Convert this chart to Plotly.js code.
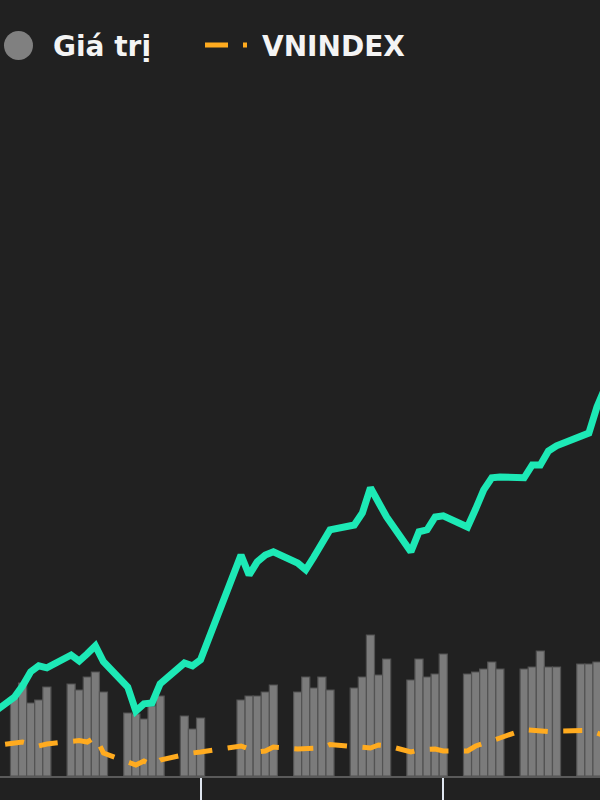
<!DOCTYPE html>
<html>
<head>
<meta charset="utf-8">
<script src="https://cdn.plot.ly/plotly-3.0.1.min.js"></script>
<style>html,body{margin:0;padding:0;background:#212121;}#chart{width:600px;height:800px;}</style>
</head>
<body>
<div id="chart"></div>
<script>
// Trading days (2021)
const dates = [
  '2021-08-06','2021-08-09','2021-08-10','2021-08-11','2021-08-12','2021-08-13',
  '2021-08-16','2021-08-17','2021-08-18','2021-08-19','2021-08-20',
  '2021-08-23','2021-08-24','2021-08-25','2021-08-26','2021-08-27',
  '2021-08-30','2021-08-31','2021-09-01',
  '2021-09-06','2021-09-07','2021-09-08','2021-09-09','2021-09-10',
  '2021-09-13','2021-09-14','2021-09-15','2021-09-16','2021-09-17',
  '2021-09-20','2021-09-21','2021-09-22','2021-09-23','2021-09-24',
  '2021-09-27','2021-09-28','2021-09-29','2021-09-30','2021-10-01',
  '2021-10-04','2021-10-05','2021-10-06','2021-10-07','2021-10-08',
  '2021-10-11','2021-10-12','2021-10-13','2021-10-14','2021-10-15',
  '2021-10-18','2021-10-19','2021-10-20','2021-10-21'
];
// Giá trị (trading value, bars)
const tradeValue = [
  null,15.8,18.6,14.6,15.2,17.8,
  18.4,17.2,19.8,20.8,16.8,
  12.6,12.4,11.4,14.0,16.0,
  12.0,9.4,11.6,
  15.2,16.0,16.0,16.8,18.2,
  16.8,19.8,17.6,19.8,17.2,
  17.6,19.8,28.2,20.2,23.4,
  19.2,23.4,19.8,20.4,24.4,
  20.4,20.8,21.4,22.8,21.4,
  21.4,21.8,25.0,21.8,21.8,
  22.4,22.4,22.8,null
];
// Portfolio performance (green line)
const portfolio = [
  100.0,104.5,107.3,110.8,112.3,111.8,
  115.0,113.5,115.3,117.3,113.3,
  107.0,101.0,102.8,103.0,107.8,
  113.0,112.3,113.8,
  140.0,135.0,138.3,140.0,140.8,
  138.0,136.3,139.5,142.8,146.3,
  147.5,150.5,156.8,153.1,149.5,
  140.8,145.8,146.3,149.5,149.8,
  147.0,151.5,156.3,159.3,159.5,
  159.3,162.5,162.5,166.0,167.3,
  169.5,170.5,177.0,181.8
];
// VNINDEX (orange dashed)
const vnindex = [
  1347.4,1354.4,1358.6,1353.0,1347.4,1353.0,
  1361.4,1362.8,1358.6,1372.6,1327.8,
  1299.8,1294.2,1305.4,1294.2,1308.2,
  1325.0,1327.8,1330.6,
  1347.4,1339.0,1330.6,1333.4,1344.6,
  1339.0,1339.0,1341.8,1341.8,1351.6,
  1346.0,1341.8,1341.8,1350.2,1348.8,
  1330.6,1336.2,1337.6,1339.0,1333.4,
  1333.4,1347.4,1354.4,1361.4,1369.8,
  1393.6,1392.2,1388.0,1388.0,1389.4,
  1392.2,1390.8,1383.8,1375.4
];
const tickDates = ['2021-09-01','2021-10-01'];
const legendLabels = ['Giá trị','VNINDEX'];

const GREEN = '#1de9b6', ORANGE = '#ffab1f', BAR = '#7b7b7b', BG = '#212121';
const DAY = 86400000;

const traces = [
  {type:'bar', x:dates, y:tradeValue, name:legendLabels[0], yaxis:'y',
   width:DAY, marker:{color:BAR, line:{color:'#535353', width:1.2}}, hoverinfo:'skip'},
  {type:'scatter', mode:'lines', x:dates, y:vnindex, name:legendLabels[1], yaxis:'y3',
   line:{color:ORANGE, width:5, dash:'0px,15px,19px,0.5px'}},
  {type:'scatter', mode:'lines', x:dates, y:portfolio, name:'portfolio', yaxis:'y2',
   line:{color:GREEN, width:7}}
];

const legY = (776-45)/696;
const txtY = (776-46.5)/696;
const layout = {
  width:600, height:800,
  paper_bgcolor:BG, plot_bgcolor:BG,
  margin:{l:0, r:0, t:80, b:24, pad:0},
  showlegend:false,
  bargap:0,
  xaxis:{type:'date', range:['2021-08-07 05:00','2021-10-20 09:00'],
    showgrid:false, zeroline:false, showline:true, linecolor:'#5a5a5a', linewidth:2,
    ticks:'outside', ticklen:24, tickwidth:2, tickcolor:'#dfe6ef',
    tickmode:'array', tickvals:tickDates, showticklabels:false, fixedrange:true},
  yaxis:{range:[0,139.2], visible:false, fixedrange:true},
  yaxis2:{range:[84.75,258.75], overlaying:'y', visible:false, fixedrange:true},
  yaxis3:{range:[1263.4,3212.2], overlaying:'y', visible:false, fixedrange:true},
  shapes:[
    {type:'circle', xref:'paper', yref:'paper', x0:4/600, x1:33/600,
     y0:(776-60)/696, y1:(776-31)/696, fillcolor:'#808080', line:{width:0}},
    {type:'line', xref:'paper', yref:'paper', x0:205/600, x1:247/600, y0:legY, y1:legY,
     line:{color:ORANGE, width:5, dash:'23px,15px'}}
  ],
  annotations:[
    {text:legendLabels[0], xref:'paper', yref:'paper', x:51/600, y:txtY, xanchor:'left', yanchor:'middle',
     showarrow:false, font:{family:'DejaVu Sans', size:28, weight:'bold', color:'#f4f4f4'}},
    {text:legendLabels[1], xref:'paper', yref:'paper', x:260/600, y:txtY, xanchor:'left', yanchor:'middle',
     showarrow:false, font:{family:'DejaVu Sans', size:28, weight:'bold', color:'#f4f4f4'}}
  ]
};
Plotly.newPlot('chart', traces, layout, {displayModeBar:false, staticPlot:true});
</script>
</body>
</html>
